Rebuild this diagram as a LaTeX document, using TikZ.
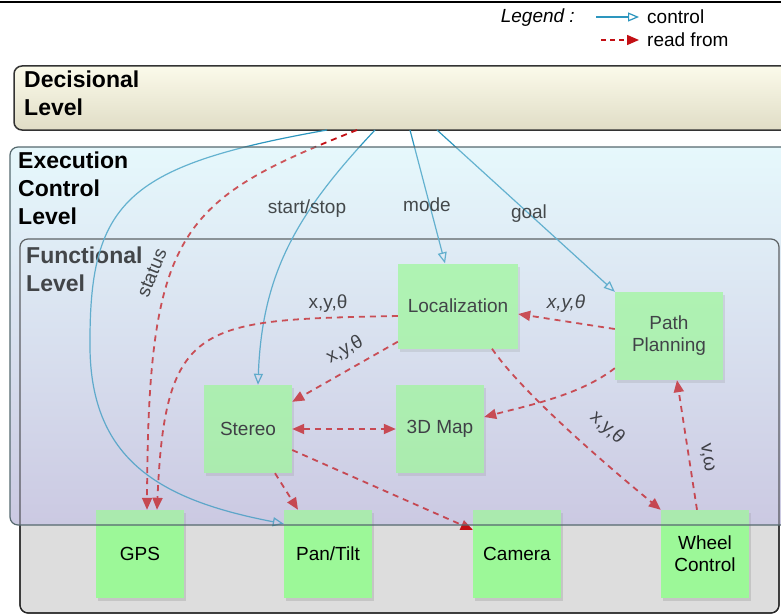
\documentclass[tikz,border=0pt]{standalone}
\usepackage{fontspec}
\setmainfont{Liberation Sans}
\usetikzlibrary{arrows.meta,shadows,calc}

\definecolor{ctrlblue}{RGB}{45,150,190}
\definecolor{readred}{RGB}{195,15,20}
\definecolor{modgreen}{RGB}{156,248,152}
\definecolor{decitop}{RGB}{251,250,234}
\definecolor{decibot}{RGB}{224,221,198}
\definecolor{exectop}{RGB}{230,248,252}
\definecolor{execbot}{RGB}{203,201,226}
\definecolor{funcgray}{RGB}{221,221,221}
\definecolor{execline}{RGB}{85,105,110}

\begin{document}
\begin{tikzpicture}[x=1pt,y=-1pt,
  module/.style={rectangle,fill=modgreen,minimum width=88pt,minimum height=88pt,inner sep=2pt,align=center,font=\fontsize{19}{22}\selectfont,drop shadow={shadow xshift=2pt,shadow yshift=-3pt,opacity=0.25}},
  levelname/.style={anchor=north west,inner sep=0pt,align=left,font=\fontsize{23}{28}\selectfont\bfseries},
  lbl/.style={font=\fontsize{19}{22}\selectfont,inner sep=1pt},
  control/.style={draw=ctrlblue,line width=1.2pt,>={Triangle[open,length=11pt,width=9pt]},->},
  readfrom/.style={draw=readred,line width=1.8pt,dash pattern=on 6pt off 5pt,>={Triangle[length=12pt,width=10pt]},->},
  levelbox/.style={rounded corners=8pt}]
\useasboundingbox (0,0) rectangle (781,615);

\draw[line width=1.5pt] (0,2) -- (781,2);

% levels
\shade[levelbox,top color=decitop,bottom color=decibot,draw=black!80,line width=1.5pt] (14,66) rectangle (800,130);
\node[levelname] (decname) at (24,71) {Decisional\\Level};

\draw[levelbox,fill=funcgray,draw=black!85,line width=1.2pt] (20,239) rectangle (779,613);
\shade[levelbox,top color=exectop,bottom color=execbot] (10,147) rectangle (800,525);
\draw[levelbox,draw=black!85,line width=1.2pt] (20,239) rectangle (779,613);
\node[levelname] (funcname) at (26,247) {Functional\\Level};

\coordinate (d1) at (327,130);
\coordinate (d2) at (357,130);
\coordinate (d3) at (375,130);
\coordinate (d4) at (410,130);
\coordinate (d5) at (437,130);

% modules
\node[module,minimum width=120pt,minimum height=85pt] (loc) at (458,306) {Localization};
\node[module,minimum width=108pt] (path) at (669,336) {Path\\Planning};
\node[module] (stereo) at (248,429) {Stereo};
\node[module] (map) at (440,429) {3D Map};
\node[module] (gps) at (140,554) {GPS};
\node[module] (pantilt) at (328,554) {Pan/Tilt};
\node[module] (camera) at (517,554) {Camera};
\node[module] (wheel) at (705,554) {Wheel\\Control};

\draw[control] (d1) .. controls (130,165) and (90,200) .. (90,340) .. controls (88,460) and (160,500) .. ($(pantilt.north west)+(0,14)$);
\draw[readfrom] (d2) .. controls (180,200) and (148,230) .. ($(gps.north)+(7,0)$);
\draw[control] (d3) .. controls (300,210) and (262,270) .. ($(stereo.north)+(10,0)$);
\draw[control] (d4) -- ($(loc.north)+(-13,0)$);
\draw[control] (d5) -- (path.north west);
\draw[readfrom] ($(loc.west)+(0,10)$) .. controls (200,320) and (165,320) .. ($(gps.north)+(17,0)$);
\draw[readfrom] ($(path.west)+(0,-7)$) -- ($(loc.east)+(0,8)$);
\draw[readfrom] ($(path.south west)+(0,-12)$) .. controls (580,395) and (530,405) .. ($(map.east)+(0,-12)$);
\draw[readfrom] ($(loc.south)+(34,0)$) .. controls (520,390) and (600,460) .. (wheel.north west);
\draw[readfrom] ($(loc.south west)+(0,-7)$) -- ($(stereo.north east)+(0,17)$);
\draw[readfrom,<->] (stereo) -- (map);
\draw[readfrom] ($(stereo.south)+(27,0)$) -- ($(pantilt.north)+(-30,0)$);
\draw[readfrom] ($(stereo.east)+(0,21)$) -- ($(camera.north west)+(0,20)$);
\draw[readfrom] ($(wheel.north)+(-8,0)$) -- ($(path.south)+(8,0)$);

\node[lbl,rotate=68] (status) at (152,273) {status};
\node[lbl] (startstop) at (307,209) {start/stop};
\node[lbl] (mode) at (427,205) {mode};
\node[lbl] (goal) at (529,214) {goal};
\node[lbl] (xyt1) at (328,304) {x,y,θ};
\node[lbl,rotate=29] (xyt2) at (345,350) {x,y,θ};
\node[lbl,font=\fontsize{19}{22}\selectfont\itshape] (xyt3) at (566,304) {x,y,θ};
\node[lbl,rotate=-42] (xyt4) at (607,428) {x,y,θ};
\node[lbl,rotate=-81] (vw) at (707,458) {v,ω};

% execution level on top
\shade[levelbox,top color=exectop,bottom color=execbot,fill opacity=0.3] (10,147) rectangle (800,525);
\draw[levelbox,draw=execline,line width=1.2pt] (10,147) rectangle (800,525);
\node[levelname] (execname) at (18,152) {Execution\\Control\\Level};

% legend
\node[lbl,font=\fontsize{19}{22}\selectfont\itshape,anchor=east] (legend) at (576,18) {Legend :};
\node[lbl,anchor=west] (ctrltext) at (646,17) {control};
\node[lbl,anchor=west] (readtext) at (646,40) {read from};
\coordinate (lgc) at (596,17);
\coordinate (lgr) at (601,40);
\draw[control,shorten >=7pt] (lgc) -- (ctrltext.west);
\draw[readfrom,line width=1.4pt,dash pattern=on 5pt off 4pt,shorten >=7pt] (lgr) -- (readtext.west);
\end{tikzpicture}
\end{document}
